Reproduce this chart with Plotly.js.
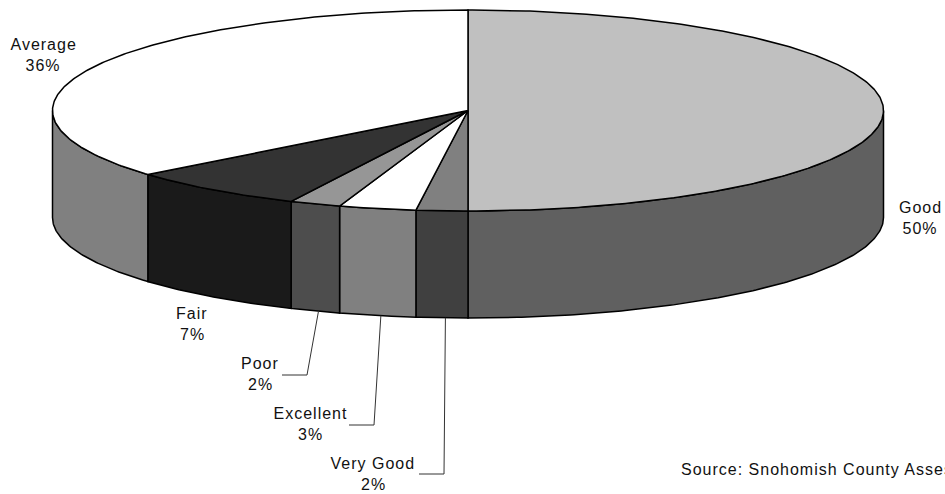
<!DOCTYPE html>
<html>
<head>
<meta charset="utf-8">
<script src="https://cdn.plot.ly/plotly-3.0.1.min.js"></script>
<style>
html, body { margin: 0; padding: 0; background: #fff; overflow: hidden; }
#chart { width: 945px; height: 494px; }
#chart text { letter-spacing: 1px; }
</style>
</head>
<body>
<div id="chart"></div>
<script>
// Condition shares, clockwise from twelve o'clock
const categories = ["Good", "Very Good", "Excellent", "Poor", "Fair", "Average"];
const shares = [50, 2, 3, 2, 7, 36];
const topColors = ["#c0c0c0", "#808080", "#ffffff", "#969696", "#333333", "#ffffff"];
const sideColors = ["#606060", "#404040", "#808080", "#4d4d4d", "#1a1a1a", "#808080"];

// Label placement, in page pixels
const labelX = [920, 373, 310, 260, 192, 43];
const labelY = [207, 463, 413, 363, 313, 44];
const lineGap = 21.5;
const sourceText = "Source: Snohomish County Assessor";

// Leader lines run from the rim to an elbow and then to the label
const leaderCategories = ["Poor", "Excellent", "Very Good"];
const elbowX = [307, 374, 444];
const elbowY = [375, 425, 474];
const tailX = [282, 349, 419];

// Disc geometry
const cx = 468, cy = 110.5, rx = 415.5, ry = 100.5, depth = 107;

const total = shares.reduce((a, b) => a + b, 0);
const toAngle = s => 2 * Math.PI * s / total;
const rimX = a => cx + rx * Math.sin(a);
const rimY = a => cy - ry * Math.cos(a);

function arc(a0, a1, drop) {
  const n = Math.max(2, Math.ceil((a1 - a0) / 0.01));
  const xs = [], ys = [];
  for (let i = 0; i <= n; i++) {
    const a = a0 + (a1 - a0) * i / n;
    xs.push(rimX(a));
    ys.push(rimY(a) + drop);
  }
  return { xs, ys };
}

const outline = { color: "#000000", width: 1.5 };
const polygon = (x, y, fillcolor) => ({
  type: "scatter", mode: "lines", x, y, fill: "toself", fillcolor,
  line: outline, hoverinfo: "skip", showlegend: false
});

const sides = [], tops = [];
let running = 0;
const startShare = {};
categories.forEach((name, i) => {
  const a0 = toAngle(running), a1 = toAngle(running + shares[i]);
  startShare[name] = running;
  running += shares[i];

  // Only the front half of the wall is visible
  const s0 = Math.max(a0, Math.PI / 2), s1 = Math.min(a1, 3 * Math.PI / 2);
  if (s1 > s0) {
    const upper = arc(s0, s1, 0), lower = arc(s0, s1, depth);
    sides.push(polygon(
      upper.xs.concat(lower.xs.slice().reverse(), upper.xs[0]),
      upper.ys.concat(lower.ys.slice().reverse(), upper.ys[0]),
      sideColors[i]
    ));
  }
  const rim = arc(a0, a1, 0);
  tops.push(polygon([cx].concat(rim.xs, cx), [cy].concat(rim.ys, cy), topColors[i]));
});

const leaders = leaderCategories.map((name, i) => {
  const k = categories.indexOf(name);
  const mid = toAngle(startShare[name] + shares[k] / 2);
  const x0 = rimX(mid) + 3.5;
  return {
    type: "scatter", mode: "lines",
    x: [x0, elbowX[i], tailX[i]],
    y: [rimY(mid) + depth, elbowY[i], elbowY[i]],
    line: { color: "#333333", width: 1 },
    hoverinfo: "skip", showlegend: false
  };
});

const source = {
  type: "scatter", mode: "text", x: [681], y: [471],
  text: [sourceText], textposition: "middle right",
  textfont: { family: "Liberation Sans, Arial, sans-serif", size: 16, color: "#111111" },
  hoverinfo: "skip", showlegend: false, cliponaxis: true
};

const annotations = [];
categories.forEach((name, i) => {
  [name, shares[i] + "%"].forEach((text, line) => {
    annotations.push({
      x: labelX[i], y: labelY[i] + line * lineGap, text,
      xref: "x", yref: "y", showarrow: false,
      xanchor: "center", yanchor: "middle",
      font: { family: "Liberation Sans, Arial, sans-serif", size: 16, color: "#111111" }
    });
  });
});

const hidden = { visible: false, fixedrange: true };
Plotly.newPlot("chart", sides.concat(tops, leaders, source), {
  width: 945, height: 494,
  margin: { l: 0, r: 0, t: 0, b: 0 },
  paper_bgcolor: "#ffffff", plot_bgcolor: "#ffffff",
  xaxis: Object.assign({ range: [0, 945] }, hidden),
  yaxis: Object.assign({ range: [494, 0] }, hidden),
  annotations
}, { displayModeBar: false, staticPlot: true });
</script>
</body>
</html>
